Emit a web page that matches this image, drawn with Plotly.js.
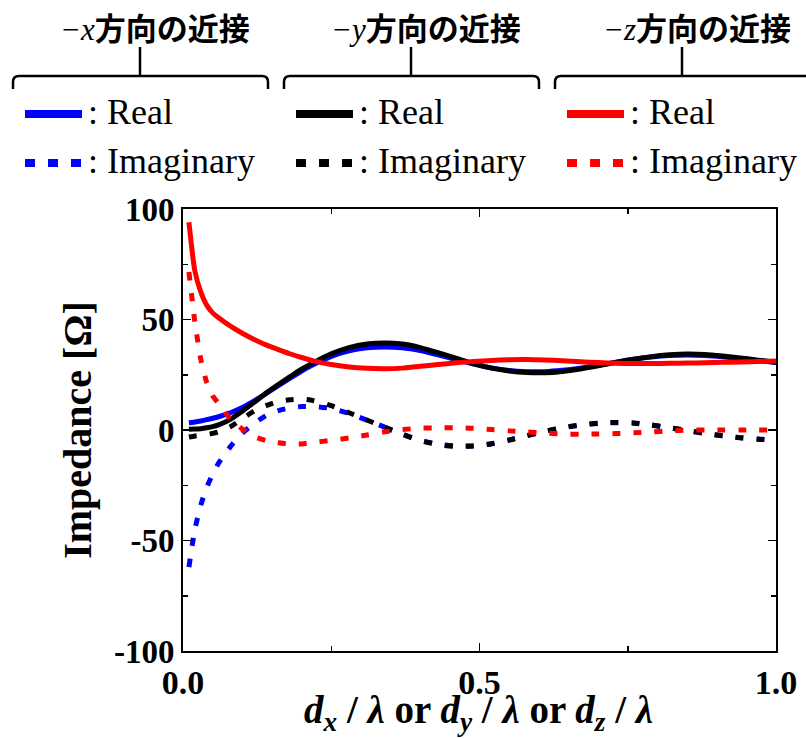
<!DOCTYPE html>
<html>
<head>
<meta charset="utf-8">
<script src="https://cdn.plot.ly/plotly-3.0.1.min.js"></script>
<style>html,body{margin:0;padding:0;background:#fff;}#chart{width:806px;height:739px;}</style>
</head>
<body>
<div id="chart"></div>
<script>
// ---- data ----
const xGrid = [0.01,0.02,0.03,0.04,0.05,0.06,0.08,0.10,0.12,0.14,0.16,0.18,0.20,0.22,0.25,0.28,0.31,0.34,0.37,0.40,0.43,0.46,0.49,0.52,0.55,0.58,0.61,0.64,0.67,0.70,0.73,0.76,0.79,0.82,0.85,0.88,0.91,0.94,0.97,1.00];
const xReal = [3.2,3.6,4.1,4.7,5.3,6.0,7.8,10.2,13.2,16.5,20.0,23.4,26.7,29.6,33.3,35.8,37.2,37.6,37.2,35.9,34.0,31.9,29.8,28.1,26.9,26.4,26.4,27.0,28.0,29.3,30.7,32.0,33.0,33.7,33.9,33.7,33.1,32.3,31.4,30.5];
const xImag = [-62,-45,-34,-26,-20,-15,-7.5,-1.5,3.0,6.5,8.7,10.0,10.6,10.6,9.8,7.5,4.5,1.3,-1.9,-4.6,-6.4,-7.2,-7.1,-6.2,-4.5,-2.5,-0.6,1.0,2.2,3.0,3.3,3.1,2.2,1.0,-0.3,-1.5,-2.6,-3.5,-4.1,-4.5];
const yReal = [0.3,0.4,0.6,1.0,1.5,2.3,4.8,8.5,12.5,16.7,20.5,24.0,27.5,30.5,34.5,37.3,38.9,39.4,38.9,37.3,35.0,32.5,30.0,28.0,26.7,26.0,25.9,26.5,27.6,29.0,30.6,32.0,33.2,34.0,34.4,34.2,33.5,32.6,31.6,30.6];
const yImag = [-3.2,-2.7,-2.4,-2.0,-1.5,-0.8,1.5,5.0,8.6,11.0,12.8,13.7,14.0,13.3,11.0,7.8,4.5,1.2,-2.0,-4.8,-6.6,-7.4,-7.3,-6.3,-4.6,-2.6,-0.6,1.1,2.3,3.1,3.4,3.2,2.3,1.1,-0.2,-1.5,-2.6,-3.5,-4.2,-4.6];
const zReal = [94,72,62.5,56.5,53,50.8,47,43.8,41,38.5,36.5,34.5,32.8,31.3,29.6,28.5,27.9,27.7,28,28.8,29.6,30.4,31,31.5,31.8,31.9,31.7,31.3,30.9,30.5,30.2,30.1,30.1,30.2,30.3,30.4,30.6,30.8,31,31.2];
const zImag = [71.5,49,32,21.5,15.5,12,5,0.5,-3,-4.8,-5.8,-6.3,-6.3,-5.6,-4.7,-3.6,-2.3,-0.8,0.2,0.8,1,1,0.8,0.2,-0.4,-0.9,-1.4,-1.8,-1.9,-1.8,-1.6,-1.3,-0.9,-0.4,-0.1,0,0,0,0,0];
const groupTitles = ['x','y','z'];
const groupColors = ['#0000ff','#000000','#ff0000'];
const itemLabels = [': Real', ': Imaginary'];
const yTickVals = [-100,-50,0,50,100];
const yTickText = ['-100','-50','0','50','100'];
const xTickVals = [0,0.5,1];
const xTickText = ['0.0','0.5','1.0'];
const xTitle = '<i>d</i><sub><i>x</i></sub> / <i>λ</i> or <i>d</i><sub><i>y</i></sub> / <i>λ</i> or <i>d</i><sub><i>z</i></sub> / <i>λ</i>';
const yTitle = 'Impedance [Ω]';

// ---- geometry helpers (pixel -> paper) ----
const W=806,H=739, L=183, R=776, T=209, B=651;
const fx = p => (p-L)/(R-L);
const fy = p => (B-p)/(B-T);

const DOT = '8px,13px';
const serif = 'Liberation Serif';

function tr(xs, y, color, dotted){
  return {x:xs, y:y, type:'scatter', mode:'lines', showlegend:false, hoverinfo:'skip',
    line:{color:color, width:5, dash: dotted?DOT:'solid', shape:'spline', smoothing:0.6}};
}
// imaginary x / y curves are split where they merge so their dot patterns line up
const k = xGrid.indexOf(0.34);
const part = (arr, a, b) => arr.slice(a, b);
const data = [
  tr(xGrid, xReal, groupColors[0], false),
  tr(part(xGrid,0,k+1), part(xImag,0,k+1), groupColors[0], true),
  tr(part(xGrid,k), part(xImag,k), groupColors[0], true),
  tr(xGrid, yReal, groupColors[1], false),
  tr(part(xGrid,0,k+1), part(yImag,0,k+1), groupColors[1], true),
  tr(part(xGrid,k), part(yImag,k), groupColors[1], true),
  tr(xGrid, zReal, groupColors[2], false),
  tr(xGrid, zImag, groupColors[2], true)
];

// header: brackets, titles, legend entries
const shapes=[], annotations=[];
const groupOffsets=[0,271,542];
groupOffsets.forEach((o,i)=>{
  const x0=13+o, x1=(i===2? 820 : 268+o), xm=140+o, yh=76, yb=89, r=6;
  let path = `M ${fx(x0)},${fy(yb)} L ${fx(x0)},${fy(yh+r)} Q ${fx(x0)},${fy(yh)} ${fx(x0+r)},${fy(yh)} L ${fx(x1-r)},${fy(yh)}`;
  if(i!==2) path += ` Q ${fx(x1)},${fy(yh)} ${fx(x1)},${fy(yh+r)} L ${fx(x1)},${fy(yb)}`;
  shapes.push({type:'path', xref:'paper', yref:'paper', path:path, line:{color:'#000', width:2.5}});
  shapes.push({type:'line', xref:'paper', yref:'paper', x0:fx(xm), x1:fx(xm), y0:fy(47), y1:fy(yh), line:{color:'#000', width:2.5}});
  annotations.push({xref:'paper', yref:'paper', x:fx(155+o), y:fy(27), xanchor:'center', yanchor:'middle', showarrow:false,
    text:`<span style="font-family:Liberation Serif;font-weight:normal;font-style:italic">−${groupTitles[i]}</span>方向の近接`,
    font:{family:'Noto Sans CJK JP', size:31, color:'#000', weight:'bold'}});
  // legend swatches
  shapes.push({type:'line', xref:'paper', yref:'paper', x0:fx(25+o), x1:fx(82+o), y0:fy(114), y1:fy(114), line:{color:groupColors[i], width:8}});
  shapes.push({type:'line', xref:'paper', yref:'paper', x0:fx(25+o), x1:fx(82+o), y0:fy(163), y1:fy(163), line:{color:groupColors[i], width:8, dash:'10px,13px'}});
  annotations.push({xref:'paper', yref:'paper', x:fx(86+o), y:fy(112), xanchor:'left', yanchor:'middle', showarrow:false,
    text:itemLabels[0], font:{family:serif, size:36, color:'#000'}});
  annotations.push({xref:'paper', yref:'paper', x:fx(86+o), y:fy(161), xanchor:'left', yanchor:'middle', showarrow:false,
    text:itemLabels[1], font:{family:serif, size:36, color:'#000'}});
});
// x-axis title
annotations.push({xref:'paper', yref:'paper', x:fx(478), y:fy(712), xanchor:'center', yanchor:'middle', showarrow:false,
  text:xTitle, font:{family:serif, size:39, color:'#000', weight:'bold'}});

const layout = {
  width:W, height:H,
  margin:{l:L, r:W-R, t:T, b:H-B},
  paper_bgcolor:'#fff', plot_bgcolor:'#fff',
  showlegend:false,
  xaxis:{range:[0,1], tickvals:xTickVals, ticktext:xTickText, ticks:'inside', ticklen:8, tickwidth:1.5, tickcolor:'#000',
    minor:{tickvals:[0.25,0.75], ticks:'inside', ticklen:5, tickwidth:1.5, tickcolor:'#000'},
    showline:true, linecolor:'#000', linewidth:2, mirror:'allticks', showgrid:false, zeroline:false,
    tickfont:{family:serif, size:34, color:'#000', weight:'bold'}},
  yaxis:{range:[-100,100], tickvals:yTickVals, ticktext:yTickText, ticks:'inside', ticklen:8, tickwidth:1.5, tickcolor:'#000',
    minor:{tickvals:[-75,-25,25,75], ticks:'inside', ticklen:5, tickwidth:1.5, tickcolor:'#000'},
    showline:true, linecolor:'#000', linewidth:2, mirror:'allticks', showgrid:false, zeroline:false,
    tickfont:{family:serif, size:33, color:'#000', weight:'bold'},
    title:{text:yTitle, font:{family:serif, size:40, color:'#000', weight:'bold'}, standoff:10}},
  shapes:shapes, annotations:annotations
};
Plotly.newPlot('chart', data, layout, {staticPlot:true, displayModeBar:false});
</script>
</body>
</html>
